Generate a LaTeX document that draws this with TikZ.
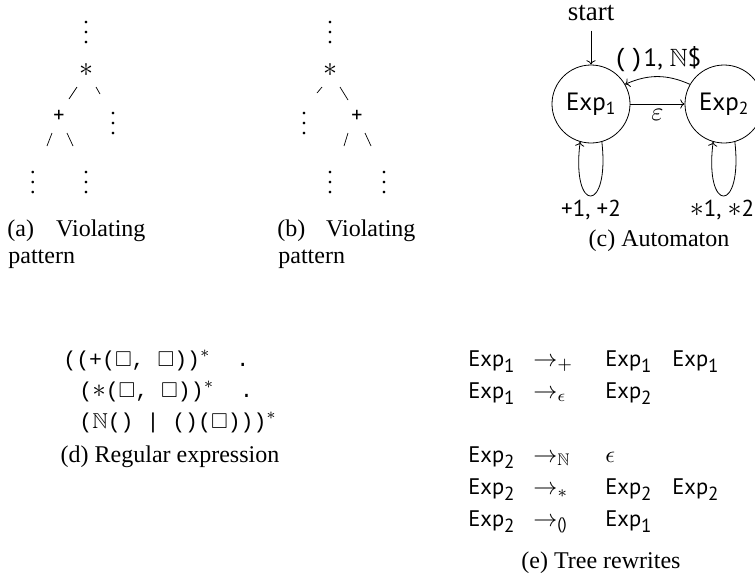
\documentclass[tikz,border=0pt]{standalone}
\usepackage{amsmath,amssymb}
\usepackage{graphicx}
\usepackage{fontspec}
\setmainfont{Liberation Serif}
\setsansfont{PT Sans}
\setmonofont{Liberation Mono}
\usetikzlibrary{arrows.meta}
\newcommand\vdts{\vbox{\baselineskip=10pt\lineskiplimit=0pt\hbox{.}\hbox{.}\hbox{.}}}
\newcommand\ExR[1]{Exp\raisebox{-0.3em}{\fontsize{19}{20}\selectfont #1}}
\newcommand\mz[2]{\scalebox{#1}{\fontsize{10}{12}\selectfont$#2$}}
\tikzset{
  capt/.style={font=\fontsize{24}{26}\selectfont, anchor=base west},
  captc/.style={font=\fontsize{24}{26}\selectfont, anchor=base},
  vdotnode/.style={font=\fontsize{22}{24}\selectfont},
  treesym/.style={font=\fontsize{22}{24}\selectfont\sffamily},
  slash/.style={line width=0.7pt},
  statenode/.style={circle, draw, minimum size=78pt, inner sep=0pt, font=\fontsize{25}{28}\selectfont\sffamily},
  autolab/.style={font=\fontsize{23}{26}\selectfont\sffamily},
  monoline/.style={font=\fontsize{21.5}{24}\selectfont\ttfamily, anchor=base west},
  rw/.style={font=\fontsize{22.5}{26}\selectfont\sffamily, anchor=base west},
}
\begin{document}
\begin{tikzpicture}[x=1pt, y=-1pt, line width=0.8pt, >={To[scale=1.3]}, every node/.append style={inner sep=0pt}]
\useasboundingbox (0,0) rectangle (755,579);

% ---------- (a) ----------
\node[vdotnode] (atop) at (86,33) {\vdts};
\node[treesym] (astar) at (86,70) {\mz{2.8}{\ast}};
\node[treesym] (aplus) at (59,116) {+};
\node[vdotnode] (arv) at (113,124) {\vdts};
\node[vdotnode] (all) at (33,183) {\vdts};
\node[vdotnode] (alr) at (86,183) {\vdts};
\draw[slash] (69,99) -- (77,87);
\draw[slash] (96,87) -- (100,94);
\draw[slash] (47,146) -- (52,133);
\draw[slash] (67,133) -- (73,146);
\node[capt] (capa1) at (7,236) {\makebox[138pt][s]{(a) Violating}};
\node[capt] (capa2) at (8,263) {pattern};

% ---------- (b) ----------
\node[vdotnode] (btop) at (330,33) {\vdts};
\node[treesym] (bstar) at (330,70) {\mz{2.8}{\ast}};
\node[vdotnode] (blv) at (304,124) {\vdts};
\node[treesym] (bplus) at (357,116) {+};
\node[vdotnode] (bll) at (330,183) {\vdts};
\node[vdotnode] (blr) at (384,183) {\vdts};
\draw[slash] (317,93) -- (322,87);
\draw[slash] (340,87) -- (348,100);
\draw[slash] (344,146) -- (348,133);
\draw[slash] (365,133) -- (371,146);
\node[capt] (capb1) at (277,236) {\makebox[138pt][s]{(b) Violating}};
\node[capt] (capb2) at (278,263) {pattern};

% ---------- (c) ----------
\node[statenode] (e1) at (591,104) {Exp\textsubscript{1}};
\node[statenode] (e2) at (724,104) {Exp\textsubscript{2}};
\node[font=\fontsize{27}{30}\selectfont, anchor=base] (start) at (591,20) {start};
\draw[->, shorten <=10pt] (start) -- (e1);
\draw[->] (e1) -- node[below=5pt] (eps) {\mz{2.6}{\varepsilon}} (e2);
\draw[->] (e2.150) to[bend right=24] node[above=5pt, font=\fontsize{25}{28}\selectfont\sffamily] (backlab) {\texttt{()}1, \mz{2.5}{\mathbb{N}}\$} (e1.30);
\draw[->] (e1.-74) .. controls (610,214) and (571,214) .. (e1.-106);
\draw[->] (e2.-74) .. controls (743,214) and (704,214) .. (e2.-106);
\node[autolab] (l1) at (591,210) {+1, +2};
\node[autolab] (l2) at (722,210) {\mz{2.8}{\ast}1, \mz{2.8}{\ast}2};
\node[captc] (capc) at (659,246) {(c) Automaton};

% ---------- (d) ----------
\node[monoline] (d1) at (63,366) {((+(\mz{2.15}{\Box}, \mz{2.15}{\Box}))\mz{2.3}{^{*}}\ \ .};
\node[monoline] (d2) at (79,397) {(\mz{2.7}{\ast}(\mz{2.15}{\Box}, \mz{2.15}{\Box}))\mz{2.3}{^{*}}\ \ .};
\node[monoline] (d3) at (79,428) {(\mz{2.15}{\mathbb{N}}() | ()(\mz{2.15}{\Box})))\mz{2.3}{^{*}}};
\node[captc] (capd) at (170,462) {(d) Regular expression};

% ---------- (e) ----------
\node[rw] (r1a) at (468,366) {\ExR{1}};
\node[rw] (r1b) at (533,366) {\mz{2.4}{\rightarrow_{+}}};
\node[rw] (r1c) at (605,366) {\ExR{1}};
\node[rw] (r1d) at (672,366) {\ExR{1}};
\node[rw] (r2a) at (468,398) {\ExR{1}};
\node[rw] (r2b) at (533,398) {\mz{2.4}{\rightarrow_{\epsilon}}};
\node[rw] (r2c) at (605,398) {\ExR{2}};
\node[rw] (r3a) at (468,462) {\ExR{2}};
\node[rw] (r3b) at (533,462) {\mz{2.4}{\rightarrow_{\mathbb{N}}}};
\node[rw] (r3c) at (605,462) {\mz{2.4}{\epsilon}};
\node[rw] (r4a) at (468,494) {\ExR{2}};
\node[rw] (r4b) at (533,494) {\mz{2.4}{\rightarrow_{\ast}}};
\node[rw] (r4c) at (605,494) {\ExR{2}};
\node[rw] (r4d) at (672,494) {\ExR{2}};
\node[rw] (r5a) at (468,526) {\ExR{2}};
\node[rw] (r5b) at (533,526) {\mz{2.4}{\rightarrow_{\text{\sffamily()}}}};
\node[rw] (r5c) at (605,526) {\ExR{1}};
\node[captc] (cape) at (601,568) {(e) Tree rewrites};
\end{tikzpicture}
\end{document}
